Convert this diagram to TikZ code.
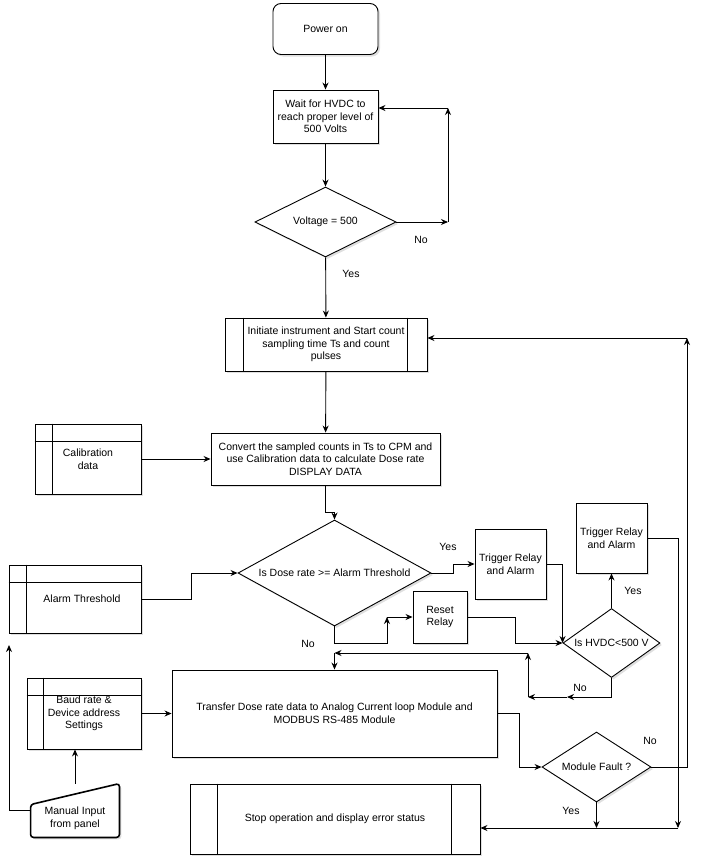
\documentclass[tikz,border=0pt]{standalone}
\usepackage{fontspec}
\setmainfont{Liberation Sans}
\usetikzlibrary{arrows.meta,shapes.geometric,shadows}
\begin{document}
\begin{tikzpicture}[x=1pt,y=-1pt,
  font=\fontsize{10.5}{12.6}\selectfont,
  line width=0.9pt,
  shad/.style={drop shadow={shadow xshift=2pt,shadow yshift=-2pt,opacity=0.25}},
  box/.style={draw, fill=white, rectangle, inner sep=2pt, align=center, shad},
  dec/.style={draw, fill=white, diamond, inner sep=0pt, align=center, shad},
  arr/.style={-{Stealth[length=7pt,width=6pt]}},
  lbl/.style={inner sep=0pt}]
\useasboundingbox (0,0) rectangle (702,865);

% nodes
\node[box, rounded corners=8pt, minimum width=105pt, minimum height=51pt] (power) at (325.5,29) {Power on};
\node[box, minimum width=105pt, minimum height=53pt] (wait) at (325.5,116.5) {Wait for HVDC to\\reach proper level of\\500 Volts};
\node[dec, aspect=2, minimum width=141pt, minimum height=70pt] (volt) at (325.5,222) {Voltage = 500};
\node[box, minimum width=202pt, minimum height=53pt] (init) at (326,344.5) {Initiate instrument and Start count\\sampling time Ts and count\\pulses};
\node[box, minimum width=229pt, minimum height=52pt] (conv) at (325.5,459) {Convert the sampled counts in Ts to CPM and\\use Calibration data to calculate Dose rate\\DISPLAY DATA};
\node[box, minimum width=106pt, minimum height=70pt] (calib) at (88,459) {Calibration\\data};
\node[dec, aspect=1.82, minimum width=193pt, minimum height=106pt] (dose) at (334.5,573) {Is Dose rate >= Alarm Threshold};
\node[box, minimum width=132pt, minimum height=68pt] (alarm) at (75,599) {\hspace*{14pt}Alarm Threshold};
\node[box, minimum width=71pt, minimum height=70pt] (trig1) at (510.5,564) {Trigger Relay\\and Alarm};
\node[box, minimum width=54pt, minimum height=52pt] (reset) at (440,617) {Reset\\Relay};
\node[dec, aspect=1.4, minimum width=97pt, minimum height=69pt] (hvdc) at (611.5,643) {Is HVDC<500 V};
\node[box, minimum width=71pt, minimum height=70pt] (trig2) at (611.5,538) {Trigger Relay\\and Alarm};
\node[box, minimum width=325pt, minimum height=87pt] (transfer) at (334.5,713.5) {Transfer Dose rate data to Analog Current loop Module and\\MODBUS RS-485 Module};
\node[box, minimum width=114pt, minimum height=71pt] (baud) at (84,713.5) {Baud rate \&\\Device address\\Settings};
\node[dec, aspect=1.57, minimum width=109pt, minimum height=70pt] (module) at (596.5,767) {Module Fault ?};
\node[box, minimum width=290pt, minimum height=70pt] (stop) at (335,819) {Stop operation and display error status};
\node[minimum width=88pt, minimum height=53pt, inner sep=0pt] (manual) at (75,810.5) {};
\draw[line width=1.6pt, rounded corners=3pt, fill=white, shad]
  (manual.north east) -- ([yshift=-21pt]manual.north west) -- (manual.south west) -- (manual.south east) -- cycle;
\node[align=center, inner sep=0pt] (manualtxt) at (75,818) {Manual Input\\from panel};

% inner lines
\draw ([xshift=19pt]init.north west) -- ([xshift=19pt]init.south west);
\draw ([xshift=-20pt]init.north east) -- ([xshift=-20pt]init.south east);
\draw ([xshift=28pt]stop.north west) -- ([xshift=28pt]stop.south west);
\draw ([xshift=-29pt]stop.north east) -- ([xshift=-29pt]stop.south east);
\draw ([yshift=-18pt]calib.north west) -- ([yshift=-18pt]calib.north east);
\draw ([xshift=18pt]calib.north west) -- ([xshift=18pt]calib.south west);
\draw ([yshift=-18pt]alarm.north west) -- ([yshift=-18pt]alarm.north east);
\draw ([xshift=18pt]alarm.north west) -- ([xshift=18pt]alarm.south west);
\draw ([yshift=-18pt]baud.north west) -- ([yshift=-18pt]baud.north east);
\draw ([xshift=17pt]baud.north west) -- ([xshift=17pt]baud.south west);

% coordinates
\coordinate (vA) at (448,222);
\coordinate (vB) at (448,108);
\coordinate (dN1) at (387,643);
\coordinate (dN2) at (387,617);
\coordinate (tA) at (678,828);
\coordinate (mA) at (687,338);
\coordinate (hN2) at (567,697);
\coordinate (hN3) at (528,697);
\coordinate (hN4) at (528,653);
\coordinate (hN5) at (334.5,653);
\coordinate (mL) at (9,645);

% connectors
\draw[arr] (power) -- (wait);
\draw[arr] (wait) -- (volt);
\draw[arr] (volt.east) -- (vA);
\draw[arr] (vA) -- (vB);
\draw[arr] (vB) -- (vB -| wait.east);
\draw[arr] (volt) -- (init);
\draw[arr] (init) -- (conv);
\draw[arr] (calib) -- (conv);
\draw[arr] (conv.south) -- ++(0,27) -| (dose.north);
\draw[arr] (alarm.east) -- ++(50,0) |- (dose.west);
\draw[arr] (dose.east) -- ++(22,0) |- (trig1.west);
\draw[arr] (trig1.east) -| (hvdc.west);
\draw[arr] (reset.east) -- ++(48,0) |- (hvdc.west);
\draw[arr] (dose.south) |- (dN1) -- (dN2);
\draw[arr] (dN2) -- (reset.west);
\draw[arr] (hvdc.north) -- (trig2.south);
\draw[arr] (trig2.east) -| (tA);
\draw[arr] (tA) -- (tA -| stop.east);
\draw[arr] (module.south) -- (module.south |- tA);
\draw[arr] (module.east) -| (mA);
\draw[arr] (mA) -- (mA -| init.east);
\draw[arr] (hvdc.south) |- (hN2);
\draw[arr] (hN2) -- (hN3);
\draw[arr] (hN3) -- (hN4);
\draw[arr] (hN4) -- (hN5);
\draw[arr] (hN5) -- (transfer.north);
\draw[arr] (transfer.east) -- ++(22,0) |- (module.west);
\draw[arr] (baud) -- (transfer);
\draw[arr] (manual.north) -- (manual.north |- baud.south);
\draw[arr] (manual.west) -| (mL);

% labels
\node[lbl] (l1) at (421,240) {No};
\node[lbl] (l2) at (351,274) {Yes};
\node[lbl] (l3) at (448,547) {Yes};
\node[lbl] (l4) at (308,644) {No};
\node[lbl] (l5) at (633,591) {Yes};
\node[lbl] (l6) at (580,688) {No};
\node[lbl] (l7) at (650,741) {No};
\node[lbl] (l8) at (571,811) {Yes};
\end{tikzpicture}
\end{document}
